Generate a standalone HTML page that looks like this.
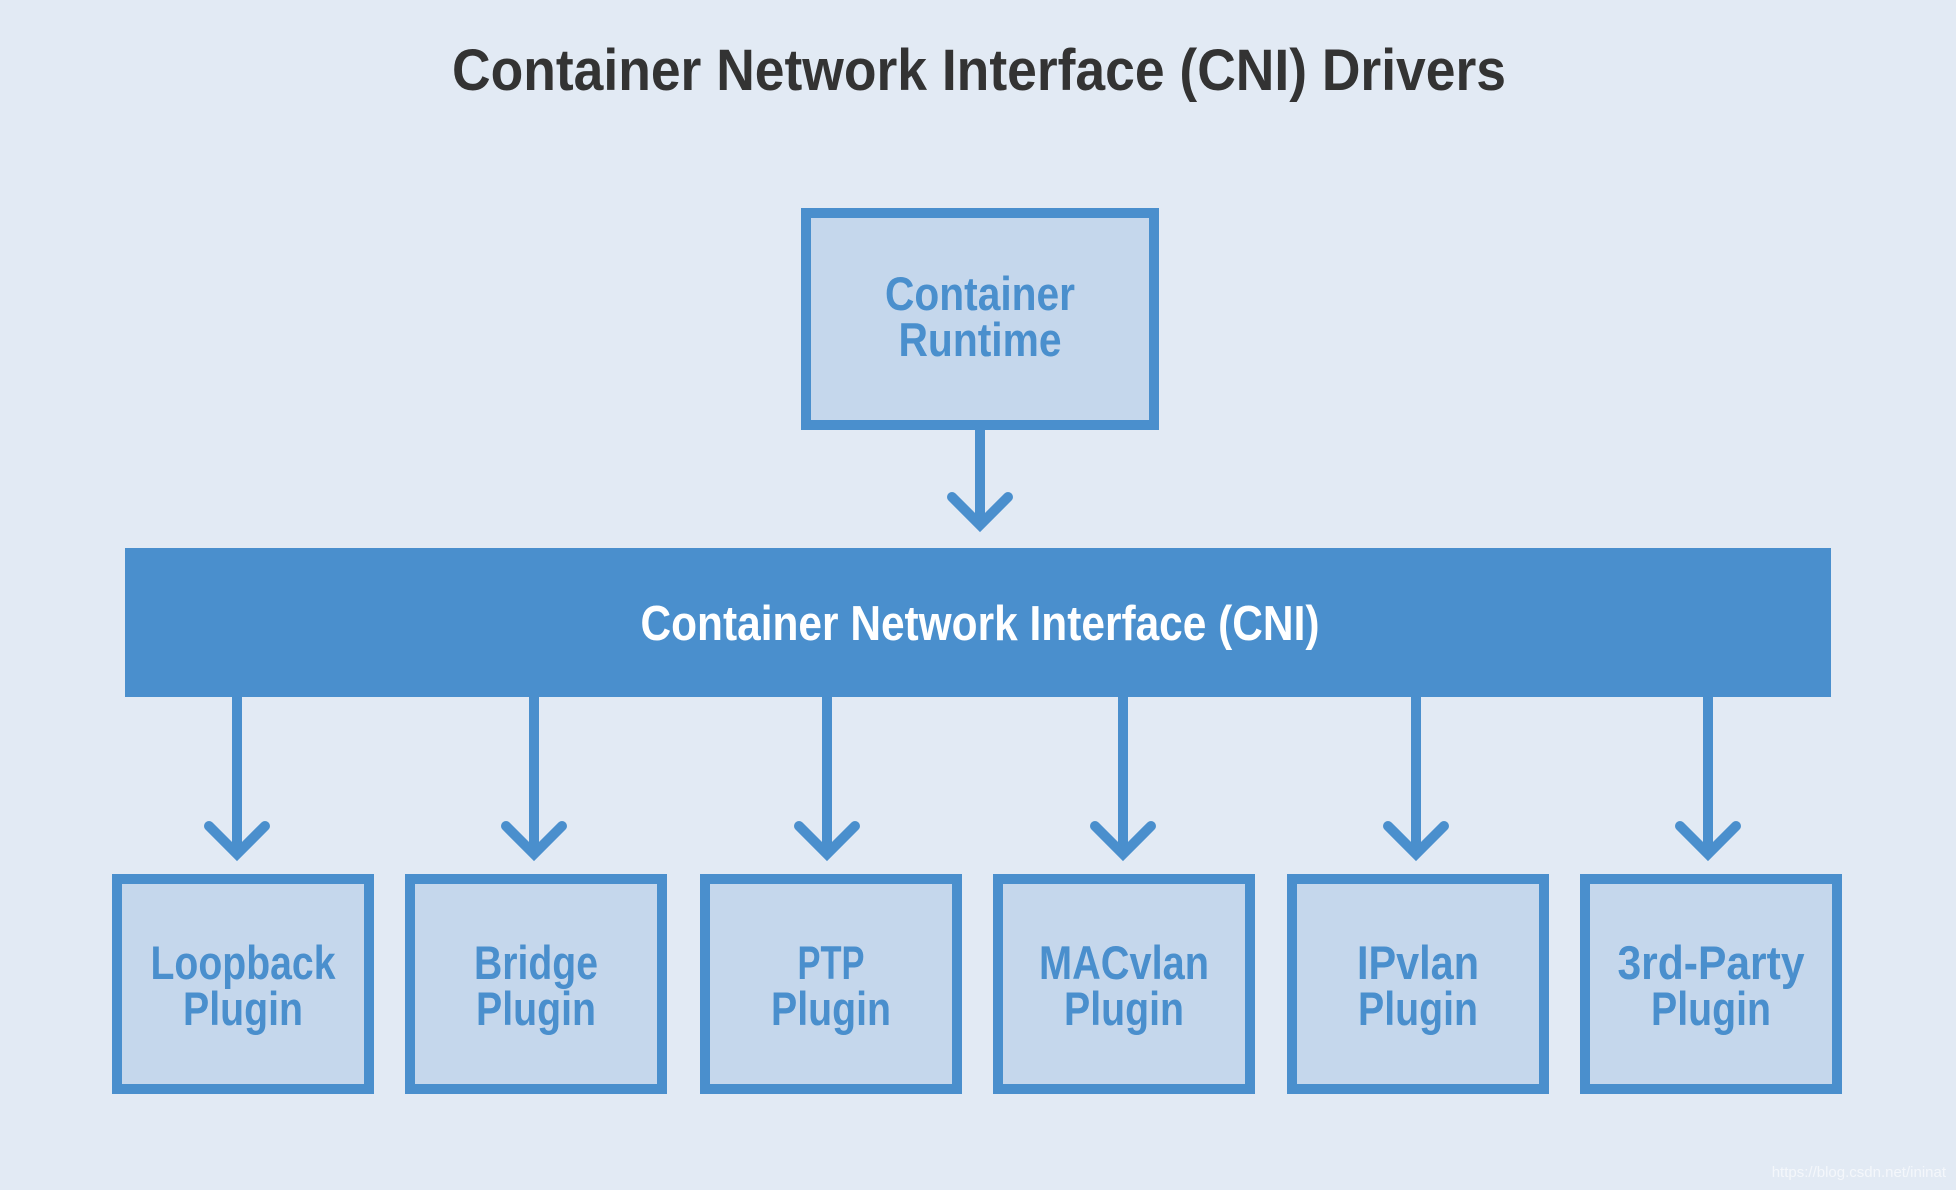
<!DOCTYPE html>
<html><head><meta charset="utf-8"><style>
html,body{margin:0;padding:0;background:#e2eaf4;}
svg{display:block;}
text{font-family:"Liberation Sans",sans-serif;font-weight:bold;}
</style></head><body>
<svg width="1956" height="1190" viewBox="0 0 1956 1190" xmlns="http://www.w3.org/2000/svg">
<rect width="1956" height="1190" fill="#e2eaf4"/>
<text x="979" y="90" font-size="58" fill="#333" text-anchor="middle" textLength="1054" lengthAdjust="spacingAndGlyphs">Container Network Interface (CNI) Drivers</text>
<rect x="806" y="213" width="348" height="212" fill="#c5d7ec" stroke="#4a8fcd" stroke-width="10"/>
<text x="980" y="310" font-size="47" fill="#4a8fcd" text-anchor="middle" textLength="190" lengthAdjust="spacingAndGlyphs">Container</text>
<text x="980" y="356" font-size="47" fill="#4a8fcd" text-anchor="middle" textLength="163" lengthAdjust="spacingAndGlyphs">Runtime</text>
<g stroke="#4a8fcd" stroke-width="10" fill="none" stroke-linecap="round" stroke-linejoin="miter">
<line x1="980" y1="430" x2="980" y2="522" stroke-linecap="butt"/>
<polyline points="952,497 980,525 1008,497"/>
</g>
<rect x="125" y="548" width="1706" height="149" fill="#4a8fcd"/>
<text x="980" y="640" font-size="49" fill="#fff" text-anchor="middle" textLength="679" lengthAdjust="spacingAndGlyphs">Container Network Interface (CNI)</text>
<g stroke="#4a8fcd" stroke-width="10" fill="none" stroke-linecap="round">
<line x1="237" y1="697" x2="237" y2="852" stroke-linecap="butt"/><polyline points="209,826 237,854 265,826"/>
<line x1="534" y1="697" x2="534" y2="852" stroke-linecap="butt"/><polyline points="506,826 534,854 562,826"/>
<line x1="827" y1="697" x2="827" y2="852" stroke-linecap="butt"/><polyline points="799,826 827,854 855,826"/>
<line x1="1123" y1="697" x2="1123" y2="852" stroke-linecap="butt"/><polyline points="1095,826 1123,854 1151,826"/>
<line x1="1416" y1="697" x2="1416" y2="852" stroke-linecap="butt"/><polyline points="1388,826 1416,854 1444,826"/>
<line x1="1708" y1="697" x2="1708" y2="852" stroke-linecap="butt"/><polyline points="1680,826 1708,854 1736,826"/>
</g>
<g fill="#c5d7ec" stroke="#4a8fcd" stroke-width="10">
<rect x="117" y="879" width="252" height="210"/>
<rect x="410" y="879" width="252" height="210"/>
<rect x="705" y="879" width="252" height="210"/>
<rect x="998" y="879" width="252" height="210"/>
<rect x="1292" y="879" width="252" height="210"/>
<rect x="1585" y="879" width="252" height="210"/>
</g>
<g font-size="47" fill="#4a8fcd" text-anchor="middle">
<text x="243" y="979" textLength="185" lengthAdjust="spacingAndGlyphs">Loopback</text>
<text x="243" y="1025" textLength="120" lengthAdjust="spacingAndGlyphs">Plugin</text>
<text x="536" y="979" textLength="124" lengthAdjust="spacingAndGlyphs">Bridge</text>
<text x="536" y="1025" textLength="120" lengthAdjust="spacingAndGlyphs">Plugin</text>
<text x="831" y="979" textLength="67" lengthAdjust="spacingAndGlyphs">PTP</text>
<text x="831" y="1025" textLength="120" lengthAdjust="spacingAndGlyphs">Plugin</text>
<text x="1124" y="979" textLength="170" lengthAdjust="spacingAndGlyphs">MACvlan</text>
<text x="1124" y="1025" textLength="120" lengthAdjust="spacingAndGlyphs">Plugin</text>
<text x="1418" y="979" textLength="122" lengthAdjust="spacingAndGlyphs">IPvlan</text>
<text x="1418" y="1025" textLength="120" lengthAdjust="spacingAndGlyphs">Plugin</text>
<text x="1711" y="979" textLength="187" lengthAdjust="spacingAndGlyphs">3rd-Party</text>
<text x="1711" y="1025" textLength="120" lengthAdjust="spacingAndGlyphs">Plugin</text>
</g>
<text x="1946" y="1177" font-size="15" fill="#f4f7fb" text-anchor="end" style="font-weight:normal">https://blog.csdn.net/ininat</text>
</svg>
</body></html>
